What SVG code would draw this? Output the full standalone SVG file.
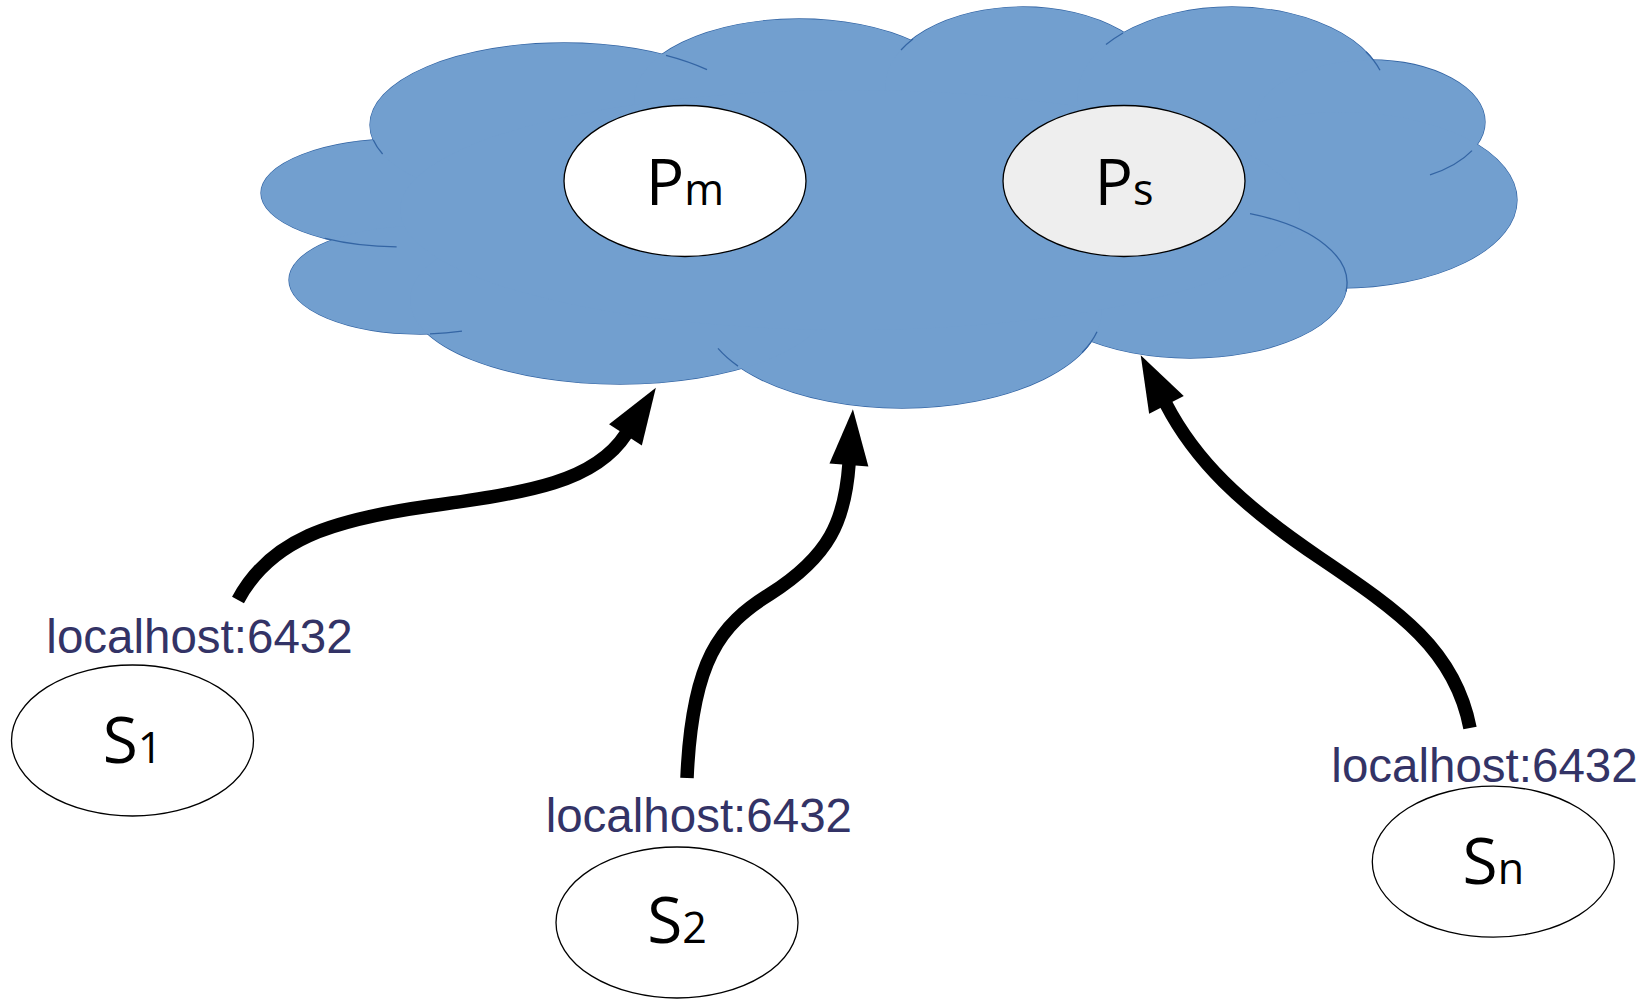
<svg xmlns="http://www.w3.org/2000/svg" width="1649" height="999" viewBox="0 0 1649 999">
<style>
.lobe{fill:#729fcf;stroke:#3465a4;stroke-width:1.3}
.lobefill{fill:#729fcf;stroke:none}
.arc{fill:none;stroke:#3465a4;stroke-width:1.3}
.node{fill:#ffffff;stroke:#000000;stroke-width:1.3}
.node.grey{fill:#eeeeee}
.lbl{font-family:"Open Sans","Noto Sans","Liberation Sans",sans-serif;fill:#000000;text-anchor:middle}
.big{font-size:64px}
.sub{font-size:43px}
.host{font-family:"Liberation Sans",Arial,sans-serif;font-size:47.5px;fill:#333366;text-anchor:middle}
.conn{fill:none;stroke:#000000;stroke-width:13.5;stroke-linecap:butt}
</style>
<defs>
<marker id="ah" markerUnits="userSpaceOnUse" markerWidth="57" markerHeight="40" refX="1" refY="19.5" orient="auto" overflow="visible">
<path d="M0,0 L56,19.5 L0,39 Z" fill="#000000"/>
</marker>
<g id="lobes">
<ellipse cx="401" cy="193" rx="140" ry="54"/>
<ellipse cx="420" cy="280" rx="131" ry="54"/>
<ellipse cx="564" cy="125" rx="194" ry="82"/>
<ellipse cx="799" cy="99" rx="165" ry="80"/>
<ellipse cx="1023" cy="87" rx="138" ry="80"/>
<ellipse cx="1232" cy="97" rx="155" ry="90"/>
<ellipse cx="1370" cy="122" rx="115" ry="62"/>
<ellipse cx="1340" cy="200" rx="177" ry="88"/>
<ellipse cx="1190" cy="283" rx="157" ry="75"/>
<ellipse cx="902" cy="310" rx="200" ry="98"/>
<ellipse cx="620" cy="300" rx="210" ry="84"/>
</g>
</defs>
<rect width="1649" height="999" fill="#ffffff"/>
<g id="cloud">
<use href="#lobes" class="lobe"/>
<use href="#lobes" class="lobefill"/>
<ellipse class="lobefill" cx="850" cy="210" rx="450" ry="120"/>
<path class="arc" d="M373.3,140 A194 82 0 0 0 382.6,154"/>
<path class="arc" d="M325,238.4 A140 54 0 0 0 396.6,246.9"/>
<path class="arc" d="M430,333.8 A131 54 0 0 0 462,331.2"/>
<path class="arc" d="M666,55.3 A194 82 0 0 1 707,69.6"/>
<path class="arc" d="M913,39 A138 80 0 0 0 901,50"/>
<path class="arc" d="M1123,33 A155 90 0 0 0 1106,44.6"/>
<path class="arc" d="M1366,51.8 A155 90 0 0 1 1380,70.3"/>
<path class="arc" d="M1472,150.6 A115 62 0 0 1 1430,174.9"/>
<path class="arc" d="M1250,213.7 A157 75 0 0 1 1346,291.5"/>
<path class="arc" d="M738,366.1 A200 98 0 0 1 718,348.4"/>
<path class="arc" d="M1082,352.7 A200 98 0 0 0 1097,331.8"/>
</g>
<g id="Pm">
<ellipse class="node" cx="685" cy="181" rx="121" ry="75.5"/>
<text class="lbl" x="685" y="204.5"><tspan class="big">P</tspan><tspan class="sub">m</tspan></text>
</g>
<g id="Ps">
<ellipse class="node grey" cx="1124" cy="181" rx="121" ry="75.5"/>
<text class="lbl" x="1124" y="204.5"><tspan class="big">P</tspan><tspan class="sub">s</tspan></text>
</g>
<g id="S1">
<text class="host" x="199.5" y="652.7">localhost:6432</text>
<ellipse class="node" cx="132.5" cy="740.5" rx="121" ry="75.5"/>
<text class="lbl" x="132.5" y="763.3"><tspan class="big">S</tspan><tspan class="sub">1</tspan></text>
</g>
<g id="S2">
<text class="host" x="698.8" y="831.7">localhost:6432</text>
<ellipse class="node" cx="677" cy="922.5" rx="121" ry="75.5"/>
<text class="lbl" x="677" y="943.3"><tspan class="big">S</tspan><tspan class="sub">2</tspan></text>
</g>
<g id="Sn">
<text class="host" x="1484.5" y="781.7">localhost:6432</text>
<ellipse class="node" cx="1493.3" cy="861.7" rx="121" ry="75.5"/>
<text class="lbl" x="1493.3" y="884"><tspan class="big">S</tspan><tspan class="sub">n</tspan></text>
</g>
<g id="connectors">
<path class="conn" marker-end="url(#ah)" d="M238,600 C270,540 330,520 430,506 C530,492 595,482 626,434"/>
<path class="conn" marker-end="url(#ah)" d="M687,778 C692,660 720,625 770,594 C830,556 845,520 849,464"/>
<path class="conn" marker-end="url(#ah)" d="M1470,728 C1455,650 1400,612 1320,558 C1240,504 1195,460 1166,404"/>
</g>
</svg>
